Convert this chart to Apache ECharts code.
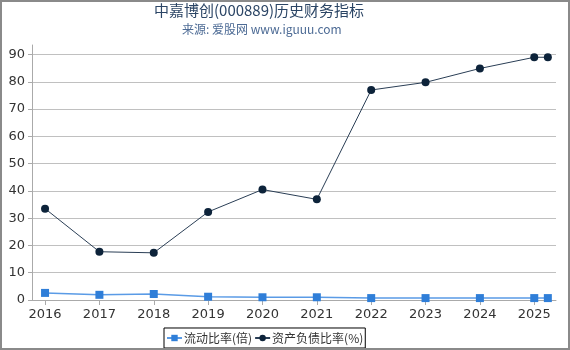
<!DOCTYPE html>
<html>
<head>
<meta charset="utf-8">
<script src="https://cdn.jsdelivr.net/npm/echarts@6/dist/echarts.min.js"></script>
<style>
html,body{margin:0;padding:0;background:#fff;}
#box{width:566px;height:346px;border:2px solid #8a8a8a;}
</style>
</head>
<body>
<div id="box"></div>
<script>
// 年份(最后一个点为2025年一季度)
var years = [2016, 2017, 2018, 2019, 2020, 2021, 2022, 2023, 2024, 2025, 2025.25];
var yearTicks = [2016, 2017, 2018, 2019, 2020, 2021, 2022, 2023, 2024, 2025];
var currentRatio = [2.6, 1.9, 2.2, 1.2, 1.0, 1.0, 0.7, 0.7, 0.7, 0.7, 0.7];
var debtRatio = [33.5, 17.7, 17.3, 32.3, 40.5, 36.9, 77.0, 79.8, 84.9, 89.0, 89.0];
var seriesNames = ['流动比率(倍)', '资产负债比率(%)'];

function pairs(ys){
	var out=[];
	for(var i=0;i<years.length;i++){ out.push([years[i], ys[i]]); }
	return out;
}

var myChart = echarts.init(document.getElementById('box'));
var option = {
	animation:false,
	title:[{
		text:'中嘉博创(000889)历史财务指标',
		left:152,
		top:1,
		padding:0,
		textStyle:{fontSize:15,fontWeight:'normal',color:'#2b4565',fontFamily:'Noto Sans CJK SC'}
	},{
		text:'来源: 爱股网 www.iguuu.com',
		left:180,
		top:21,
		padding:0,
		textStyle:{fontSize:12,fontWeight:'normal',color:'#4d6b95',fontFamily:'Noto Sans CJK SC'}
	}],
	legend:{
		bottom:0,
		left:162,
		data:seriesNames,
		borderColor:'#000',
		borderWidth:1,
		padding:[4,2],
		itemGap:2,
		itemWidth:15,
		itemHeight:8,
		textStyle:{fontSize:12,color:'#333',fontFamily:'Noto Sans CJK SC',padding:[0,0,0,-3]}
	},
	grid:{left:30,right:12,top:43,bottom:48},
	xAxis:{
		type:'value',
		min:2015.76,
		max:2025.4,
		axisLine:{lineStyle:{color:'#aaa'}},
		axisTick:{show:true,customValues:yearTicks,length:5,lineStyle:{color:'#aaa'}},
		axisLabel:{customValues:yearTicks,formatter:function(v){return String(v);},color:'#333',fontSize:13,margin:8,fontFamily:'DejaVu Sans'},
		splitLine:{show:false}
	},
	yAxis:{
		type:'value',
		min:0,
		max:93.5,
		interval:10,
		axisLine:{show:true,lineStyle:{color:'#aaa'}},
		axisTick:{show:true,length:4,lineStyle:{color:'#aaa'}},
		axisLabel:{color:'#333',fontSize:13,margin:7,showMaxLabel:false,fontFamily:'DejaVu Sans'},
		splitLine:{show:true,showMaxLine:false,lineStyle:{color:'#c0c0c0'}}
	},
	series:[
		{
			name:seriesNames[0],
			type:'line',
			data:pairs(currentRatio),
			symbol:'rect',
			symbolSize:8,
			itemStyle:{color:'#2f7ed8'},
			lineStyle:{color:'#5a9be6',width:1.5}
		},
		{
			name:seriesNames[1],
			type:'line',
			data:pairs(debtRatio),
			symbol:'circle',
			symbolSize:8,
			itemStyle:{color:'#0d233a'},
			lineStyle:{color:'#2a3e55',width:1}
		}
	]
};
myChart.setOption(option);
</script>
</body>
</html>
